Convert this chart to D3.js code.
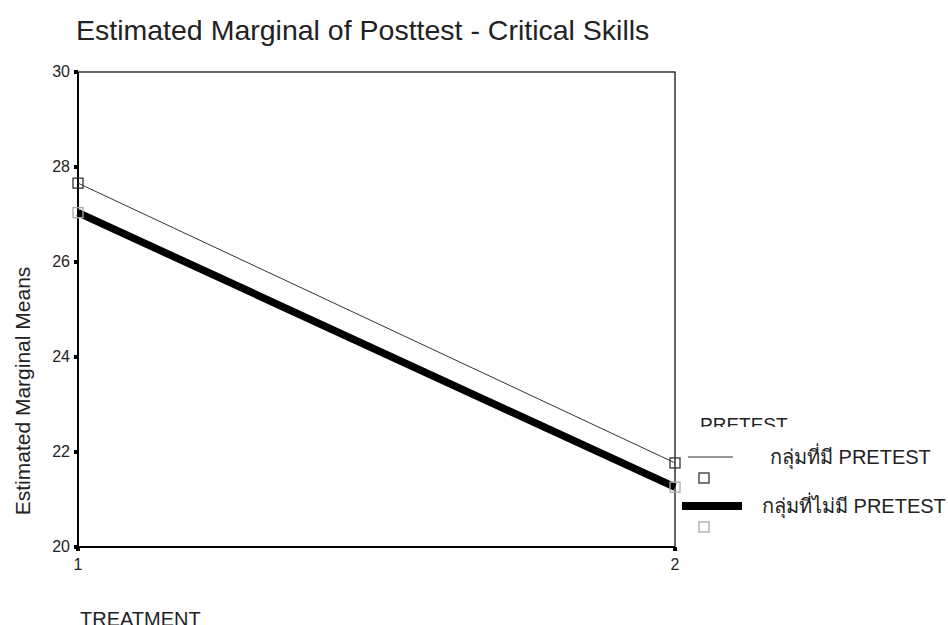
<!DOCTYPE html>
<html>
<head>
<meta charset="utf-8">
<script src="https://cdn.jsdelivr.net/npm/d3@7"></script>
<style>
body { margin: 0; background: #fff; }
text { font-family: "Liberation Sans", Arial, sans-serif; fill: #222; }
</style>
</head>
<body>
<div id="chart"></div>
<script>
var svgWidth = 948, svgHeight = 625;

// data
var treatments = [1, 2];
var seriesNames = ["กลุ่มที่มี PRETEST", "กลุ่มที่ไม่มี PRETEST"];
var withPretest = [27.66, 21.77];
var withoutPretest = [27.04, 21.26];
var yTicks = [20, 22, 24, 26, 28, 30];

var margin = {top: 72, left: 78};
var chartWidth = 597, chartHeight = 475;

var svg = d3.select("#chart").append("svg")
    .attr("width", svgWidth)
    .attr("height", svgHeight);

var g = svg.append("g")
    .attr("transform", `translate(${margin.left}, ${margin.top})`);

var xScale = d3.scaleLinear().domain([1, 2]).range([0, chartWidth]);
var yScale = d3.scaleLinear().domain([20, 30]).range([chartHeight, 0]);

// frame
g.append("rect")
    .attr("width", chartWidth).attr("height", chartHeight)
    .attr("fill", "none").attr("stroke", "#000").attr("stroke-width", 1.2);
g.append("line").attr("x1", 0).attr("x2", 0).attr("y1", 0).attr("y2", chartHeight)
    .attr("stroke", "#000").attr("stroke-width", 2);
g.append("line").attr("x1", 0).attr("x2", chartWidth).attr("y1", chartHeight).attr("y2", chartHeight)
    .attr("stroke", "#000").attr("stroke-width", 2);

// y ticks
g.selectAll(".ytick").data(yTicks).enter().append("rect")
    .attr("x", -4).attr("y", d => yScale(d) - 2)
    .attr("width", 4).attr("height", 4).attr("fill", "#000");
g.selectAll(".ylab").data(yTicks).enter().append("text")
    .attr("x", -8).attr("y", d => yScale(d) + 5)
    .attr("text-anchor", "end").attr("font-size", 16)
    .text(d => d);

// x ticks
g.selectAll(".xtick").data(treatments).enter().append("rect")
    .attr("x", d => xScale(d) - 2).attr("y", chartHeight)
    .attr("width", 4).attr("height", 4).attr("fill", "#000");
g.selectAll(".xlab").data(treatments).enter().append("text")
    .attr("x", d => xScale(d)).attr("y", chartHeight + 23)
    .attr("text-anchor", "middle").attr("font-size", 16)
    .text(d => d);

var line = d3.line().x((d, i) => xScale(treatments[i])).y(d => yScale(d));

g.append("path").datum(withoutPretest).attr("d", line)
    .attr("fill", "none").attr("stroke", "#000").attr("stroke-width", 7.5);
g.append("path").datum(withPretest).attr("d", line)
    .attr("fill", "none").attr("stroke", "#333").attr("stroke-width", 1);

function markers(data, color) {
    g.append("g").selectAll("rect").data(data).enter().append("rect")
        .attr("x", (d, i) => xScale(treatments[i]) - 5)
        .attr("y", d => yScale(d) - 5)
        .attr("width", 10).attr("height", 10)
        .attr("fill", "none").attr("stroke", color).attr("stroke-width", 1.3);
}
markers(withPretest, "#333");
markers(withoutPretest, "#aaa");

// title
svg.append("text").attr("x", 76).attr("y", 40)
    .attr("font-size", 28.5)
    .text("Estimated Marginal of Posttest - Critical Skills");

// y label
svg.append("text")
    .attr("transform", `translate(30, 391) rotate(-90)`)
    .attr("text-anchor", "middle").attr("font-size", 21)
    .text("Estimated Marginal Means");

// x label
svg.append("text").attr("x", 80).attr("y", 626)
    .attr("font-size", 20).text("TREATMENT");

// legend
svg.append("clipPath").attr("id", "legclip")
    .append("rect").attr("x", 690).attr("y", 400).attr("width", 120).attr("height", 27);
svg.append("text").attr("x", 700).attr("y", 431)
    .attr("font-size", 19).attr("clip-path", "url(#legclip)").text("PRETEST");

var legendY = [457, 506];
var legendColors = ["#333", "#aaa"];
var legendWidths = [1, 8];
var legendX = [[688, 733], [682, 742]];
seriesNames.forEach(function(name, i) {
    svg.append("line")
        .attr("x1", legendX[i][0]).attr("x2", legendX[i][1])
        .attr("y1", legendY[i]).attr("y2", legendY[i])
        .attr("stroke", i === 0 ? "#333" : "#000").attr("stroke-width", legendWidths[i]);
    svg.append("rect")
        .attr("x", 699).attr("y", legendY[i] + 16)
        .attr("width", 10).attr("height", 10)
        .attr("fill", "none").attr("stroke", legendColors[i]).attr("stroke-width", 1.3);
    svg.append("text")
        .attr("x", i === 0 ? 770 : 762).attr("y", legendY[i] + 7)
        .attr("font-size", 20).text(name);
});
</script>
</body>
</html>
